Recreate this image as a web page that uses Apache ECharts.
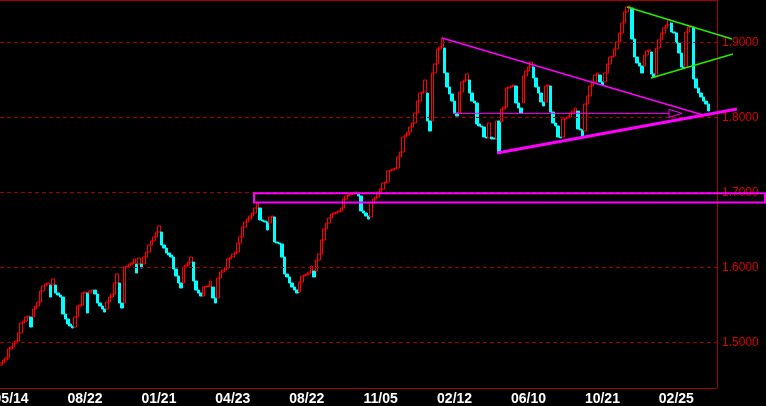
<!DOCTYPE html>
<html><head><meta charset="utf-8">
<script src="https://cdn.jsdelivr.net/npm/echarts@6/dist/echarts.min.js"></script>
<style>html,body{margin:0;padding:0;background:#000}#c{width:766px;height:406px}</style>
</head><body><div id="c"></div>
<script>
const tickLabels = ['05/14','08/22','01/21','04/23','08/22','11/05','02/12','06/10','10/21','02/25'];
const firstTickIndex = 4;
const tickStep = 30;
const slotCount = 291;
const opens = [
1.4697,1.4724,1.4764,1.4791,1.4911,1.4937,1.4991,1.5017,1.5124,1.5257,
1.5284,1.5337,1.5337,1.5337,1.5444,1.5484,1.5537,1.5684,1.5751,1.5777,
1.5764,1.5764,1.5764,1.5657,1.5631,1.5604,1.5377,1.5311,1.5244,1.5217,
1.5204,1.5337,1.5484,1.5497,1.5657,1.5657,1.5657,1.5684,1.5697,1.5644,
1.5524,1.5484,1.5444,1.5444,1.5537,1.5604,1.5644,1.5791,1.5791,1.5524,
1.5524,1.6004,1.6017,1.6044,1.6057,1.6044,1.6044,1.6044,1.6044,1.6137,
1.6204,1.6297,1.6351,1.6404,1.6471,1.6471,1.6297,1.6257,1.6191,1.6164,
1.6137,1.5977,1.5884,1.5791,1.5791,1.6004,1.6031,1.6071,1.6071,1.5817,
1.5697,1.5657,1.5617,1.5737,1.5744,1.5737,1.5737,1.5591,1.5591,1.5857,
1.5937,1.5964,1.5991,1.6111,1.6137,1.6177,1.6204,1.6324,1.6404,1.6537,
1.6604,1.6644,1.6684,1.6724,1.6791,1.6791,1.6631,1.6617,1.6604,1.6591,
1.6671,1.6671,1.6337,1.6324,1.6311,1.6137,1.5911,1.5871,1.5791,1.5737,
1.5697,1.5671,1.5804,1.5884,1.5897,1.5911,1.5937,1.5951,1.5951,1.6097,
1.6177,1.6364,1.6511,1.6591,1.6657,1.6711,1.6724,1.6737,1.6751,1.6791,
1.6911,1.6951,1.6964,1.6977,1.6991,1.6977,1.6951,1.6751,1.6724,1.6684,
1.6671,1.6857,1.6911,1.6937,1.7004,1.7044,1.7124,1.7137,1.7284,1.7297,
1.7311,1.7324,1.7471,1.7537,1.7737,1.7764,1.7804,1.7871,1.7924,1.8057,
1.8217,1.8324,1.8337,1.8324,1.7951,1.7951,1.8591,1.8711,1.8911,1.8937,
1.8924,1.8591,1.8404,1.8311,1.8217,1.8057,1.8057,1.8337,1.8471,1.8497,
1.8497,1.8324,1.8217,1.8191,1.7911,1.7884,1.7871,1.7737,1.7724,1.7737,
1.7724,1.7711,1.7951,1.7937,1.8111,1.8137,1.8391,1.8404,1.8417,1.8417,
1.8191,1.8124,1.8191,1.8551,1.8617,1.8671,1.8671,1.8524,1.8404,1.8324,
1.8204,1.8204,1.8417,1.8417,1.8071,1.7924,1.7884,1.7737,1.7737,1.7977,
1.7991,1.8004,1.8057,1.8084,1.8084,1.7844,1.7831,1.7817,1.8177,1.8284,
1.8417,1.8471,1.8564,1.8564,1.8471,1.8471,1.8591,1.8711,1.8804,1.8817,
1.8911,1.9004,1.9124,1.9257,1.9404,1.9471,1.9457,1.9044,1.8804,1.8724,
1.8684,1.8684,1.8831,1.8884,1.8871,1.8577,1.8551,1.8924,1.9031,1.9124,
1.9191,1.9231,1.9257,1.9137,1.9124,1.8991,1.8857,1.8671,1.8671,1.9137,
1.9204,1.9204,1.8511,1.8391,1.8324,1.8271,1.8217,1.8177
];
const closes = [
1.4724,1.4764,1.4791,1.4911,1.4937,1.4991,1.5017,1.5124,1.5257,1.5284,
1.5337,1.5351,1.5204,1.5444,1.5484,1.5537,1.5684,1.5751,1.5777,1.5791,
1.5604,1.5844,1.5657,1.5631,1.5604,1.5377,1.5311,1.5244,1.5217,1.5191,
1.5337,1.5484,1.5497,1.5657,1.5671,1.5391,1.5684,1.5697,1.5644,1.5524,
1.5484,1.5444,1.5404,1.5537,1.5604,1.5644,1.5791,1.5911,1.5524,1.5457,
1.6004,1.6017,1.6044,1.6057,1.6111,1.5924,1.6124,1.5991,1.6137,1.6204,
1.6297,1.6351,1.6404,1.6471,1.6551,1.6297,1.6257,1.6191,1.6164,1.6137,
1.5977,1.5884,1.5791,1.5724,1.6004,1.6031,1.6071,1.6137,1.5817,1.5697,
1.5657,1.5617,1.5737,1.5744,1.5751,1.5817,1.5591,1.5524,1.5857,1.5937,
1.5964,1.5991,1.6111,1.6137,1.6177,1.6204,1.6324,1.6404,1.6537,1.6604,
1.6644,1.6684,1.6724,1.6791,1.6857,1.6631,1.6617,1.6604,1.6497,1.6671,
1.6684,1.6337,1.6324,1.6311,1.6137,1.5911,1.5871,1.5791,1.5737,1.5697,
1.5657,1.5804,1.5884,1.5897,1.5911,1.5937,1.6017,1.5871,1.6097,1.6177,
1.6364,1.6511,1.6591,1.6657,1.6711,1.6724,1.6737,1.6751,1.6791,1.6911,
1.6951,1.6964,1.6977,1.6991,1.7004,1.6951,1.6751,1.6724,1.6684,1.6644,
1.6857,1.6911,1.6937,1.7004,1.7044,1.7124,1.7137,1.7284,1.7297,1.7311,
1.7324,1.7471,1.7537,1.7737,1.7764,1.7804,1.7871,1.7924,1.8057,1.8217,
1.8324,1.8337,1.8497,1.7951,1.7817,1.8591,1.8711,1.8911,1.8937,1.9057,
1.8591,1.8404,1.8311,1.8217,1.8057,1.8017,1.8337,1.8471,1.8497,1.8577,
1.8324,1.8217,1.8191,1.7911,1.7884,1.7871,1.7737,1.7724,1.7924,1.7711,
1.7711,1.7951,1.7524,1.8111,1.8137,1.8391,1.8404,1.8417,1.8431,1.8191,
1.8124,1.8057,1.8551,1.8617,1.8671,1.8737,1.8524,1.8404,1.8324,1.8204,
1.8151,1.8417,1.8431,1.8071,1.7924,1.7884,1.7737,1.7724,1.7977,1.7991,
1.8004,1.8057,1.8084,1.8124,1.7844,1.7831,1.7751,1.8177,1.8284,1.8417,
1.8471,1.8564,1.8591,1.8471,1.8431,1.8591,1.8711,1.8804,1.8817,1.8911,
1.9004,1.9124,1.9257,1.9404,1.9471,1.9484,1.9044,1.8804,1.8724,1.8684,
1.8591,1.8831,1.8884,1.8897,1.8577,1.8537,1.8924,1.9031,1.9124,1.9191,
1.9231,1.9297,1.9137,1.9124,1.8991,1.8857,1.8671,1.8657,1.9137,1.9204,
1.9217,1.8511,1.8391,1.8324,1.8271,1.8217,1.8177,1.8084
];
const gridValues = [1.5, 1.6, 1.7, 1.8, 1.9];
const priceMin = 1.4391, priceMax = 1.9564;
// annotations as [category index, price]
const zoneBox = [[102.6, 1.6987], [310.0, 1.6864]];
const upperTrend = [[178.9, 1.9057], [284.8, 1.8031]];
const lowerTrend = [[201.2, 1.7524], [298.6, 1.8111]];
const greenUpper = [[254.0, 1.9471], [296.6, 1.9044]];
const greenLower = [[263.7, 1.8524], [297.0, 1.8844]];
const arrowLine = [[183.4, 1.8053], [271.0, 1.8053]];
const arrowTip = [276.3, 1.8053];

const categories = [];
for (let i = 0; i < slotCount; i++) {
  const k = (i - firstTickIndex) / tickStep;
  categories.push(i >= firstTickIndex && Number.isInteger(k) && k < tickLabels.length ? tickLabels[k] : '');
}
const candles = opens.map((o, i) => {
  const c = closes[i];
  return [o, c, Math.min(o, c), Math.max(o, c)];
});

const chart = echarts.init(document.getElementById('c'), null, {renderer: 'canvas'});
const option = {
  backgroundColor: '#000000',
  animation: false,
  grid: {left: 0, right: 49, top: 0, bottom: 18, show: false, containLabel: false, outerBoundsMode: 'none'},
  xAxis: {
    type: 'category', data: categories, boundaryGap: true,
    axisLine: {show: false}, axisTick: {show: false}, splitLine: {show: false},
    axisLabel: {
      interval: (idx, val) => val !== '',
      color: '#ffffff', fontFamily: 'Liberation Sans', fontWeight: 'bold', fontSize: 14, margin: 4
    }
  },
  yAxis: {
    type: 'value', min: priceMin, max: priceMax, position: 'right',
    axisLine: {show: false}, axisTick: {show: false}, axisLabel: {show: false}, splitLine: {show: false}
  },
  series: [{
    type: 'candlestick',
    data: candles,
    barWidth: 3,
    clip: true,
    itemStyle: {color: '#000000', color0: '#00ffff', borderColor: '#ff0000', borderColor0: '#00ffff', borderWidth: 1},
    markLine: {
      silent: true,
      symbol: ['none', 'none'],
      animation: false,
      lineStyle: {type: [4, 3], color: '#a00000', width: 1},
      label: {
        show: true, position: 'end', distance: 5,
        formatter: p => Number(p.value).toFixed(4),
        color: '#d80000', fontFamily: 'Liberation Sans', fontSize: 12
      },
      data: gridValues.map(v => ({yAxis: v}))
    }
  }]
};
chart.setOption(option);

const xa = chart.convertToPixel({xAxisIndex: 0}, 0);
const xb = chart.convertToPixel({xAxisIndex: 0}, 1);
const X = i => xa + i * (xb - xa);
const Y = p => chart.convertToPixel({yAxisIndex: 0}, p);
const seg = (pts, color, w) => ({
  type: 'line', z: 100, silent: true,
  shape: {x1: X(pts[0][0]), y1: Y(pts[0][1]), x2: X(pts[1][0]), y2: Y(pts[1][1])},
  style: {stroke: color, lineWidth: w}
});
const gx0 = X(-0.5), gx1 = X(slotCount - 0.5), gyTop = Y(priceMax), gyBot = Y(priceMin);
const bx1 = X(zoneBox[0][0]), by1 = Y(zoneBox[0][1]);
const bx2 = X(zoneBox[1][0]), by2 = Y(zoneBox[1][1]);
const ay = Y(arrowLine[1][1]), ax = X(arrowLine[1][0]), tx = X(arrowTip[0]);
const frame = {stroke: '#a80000', lineWidth: 1};
chart.setOption({
  graphic: [
    {type: 'line', z: 90, silent: true, shape: {x1: gx0, y1: gyTop + 0.5, x2: gx1, y2: gyTop + 0.5}, style: frame},
    {type: 'line', z: 90, silent: true, shape: {x1: gx0, y1: gyBot + 0.5, x2: gx1, y2: gyBot + 0.5}, style: frame},
    {type: 'line', z: 90, silent: true, shape: {x1: gx1 + 0.5, y1: gyTop, x2: gx1 + 0.5, y2: gyBot}, style: frame},
    {type: 'rect', z: 100, silent: true, shape: {x: bx1, y: by1, width: bx2 - bx1, height: by2 - by1},
     style: {fill: 'transparent', stroke: '#ff00ff', lineWidth: 2}},
    seg(upperTrend, '#ff00ff', 1.5),
    seg(lowerTrend, '#ff00ff', 3),
    seg(greenUpper, '#22ee00', 1.5),
    seg(greenLower, '#22ee00', 1.5),
    seg(arrowLine, '#ff00ff', 1),
    {type: 'polygon', z: 100, silent: true, shape: {points: [[ax, ay - 4], [ax, ay + 4], [tx, ay]]},
     style: {fill: 'transparent', stroke: '#ff00ff', lineWidth: 1}}
  ]
});
</script>
</body></html>
